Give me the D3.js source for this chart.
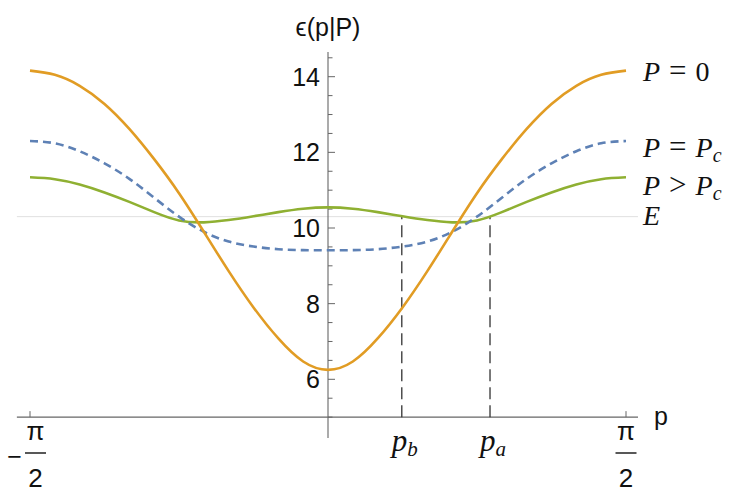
<!DOCTYPE html>
<html>
<head>
<meta charset="utf-8">
<script src="https://cdn.jsdelivr.net/npm/d3@7"></script>
<style>
  html, body { margin: 0; padding: 0; background: #fff; }
  svg { display: block; }
</style>
</head>
<body>
<svg id="chart" width="747" height="492"></svg>
<script>
// ---- data ----
const pGrid = [-1.5708, -1.4399, -1.3090, -1.1781, -1.0472, -0.9163, -0.7854, -0.6545, -0.5236, -0.3927, -0.2618, -0.1309, 0,
               0.1309, 0.2618, 0.3927, 0.5236, 0.6545, 0.7854, 0.9163, 1.0472, 1.1781, 1.3090, 1.4399, 1.5708];
const seriesP0  = [14.16, 14.05, 13.76, 13.28, 12.62, 11.82, 10.92, 9.90, 8.86, 7.90, 7.08, 6.47, 6.25,
                   6.47, 7.08, 7.90, 8.86, 9.90, 10.92, 11.82, 12.62, 13.28, 13.76, 14.05, 14.16];
const seriesPc  = [12.30, 12.24, 12.03, 11.71, 11.30, 10.80, 10.30, 9.90, 9.64, 9.51, 9.44, 9.415, 9.41,
                   9.415, 9.44, 9.51, 9.64, 9.90, 10.30, 10.80, 11.30, 11.71, 12.03, 12.24, 12.30];
const seriesGt  = [11.34, 11.29, 11.15, 10.94, 10.69, 10.42, 10.20, 10.15, 10.21, 10.31, 10.42, 10.51, 10.545,
                   10.51, 10.42, 10.31, 10.21, 10.15, 10.20, 10.42, 10.69, 10.94, 11.15, 11.29, 11.34];
const energyE = 10.3;
const markerP = [0.389, 0.854];
const markerSub = ["b", "a"];
const yMajorTicks = [6, 8, 10, 12, 14];
const yMinorTicks = [5, 5.5, 6.5, 7, 7.5, 8.5, 9, 9.5, 10.5, 11, 11.5, 12.5, 13, 13.5, 14.5];
const xTicks = [-Math.PI / 2, Math.PI / 2];
const xTickSign = ["\u2212", ""];
const legendNames = [["P", "=", "0", ""], ["P", "=", "P", "c"], ["P", ">", "P", "c"], ["E"]];

// ---- layout ----
const svg = d3.select("#chart");
const x = d3.scaleLinear().domain([-Math.PI / 2, Math.PI / 2]).range([30, 626]);
const y = d3.scaleLinear().domain([6, 14]).range([379.3, 76.7]);
const xMin = -1.64, xMax = 1.634, yAxisMin = 4.45, yAxisMax = 14.65, xAxisAt = 5;
const axisColor = "#666";
const sans = "'Liberation Sans', Arial, 'DejaVu Sans', sans-serif";
const serif = "'Liberation Serif', 'DejaVu Serif', serif";

// E line
svg.append("line")
  .attr("x1", x(xMin)).attr("x2", x(xMax))
  .attr("y1", y(energyE)).attr("y2", y(energyE))
  .attr("stroke", "#e0e0e0").attr("stroke-width", 1);

// axes
svg.append("line")
  .attr("x1", x(xMin)).attr("x2", x(xMax))
  .attr("y1", y(xAxisAt)).attr("y2", y(xAxisAt))
  .attr("stroke", axisColor).attr("stroke-width", 1.1);
svg.append("line")
  .attr("x1", x(0)).attr("x2", x(0))
  .attr("y1", y(yAxisMin)).attr("y2", y(yAxisMax))
  .attr("stroke", axisColor).attr("stroke-width", 1.1);

// y ticks
svg.selectAll(".ymaj").data(yMajorTicks).enter().append("line")
  .attr("x1", x(0)).attr("x2", x(0) + 7)
  .attr("y1", d => y(d)).attr("y2", d => y(d))
  .attr("stroke", axisColor).attr("stroke-width", 1);
svg.selectAll(".ymin").data(yMinorTicks).enter().append("line")
  .attr("x1", x(0)).attr("x2", x(0) + 4.5)
  .attr("y1", d => y(d)).attr("y2", d => y(d))
  .attr("stroke", axisColor).attr("stroke-width", 1);
svg.selectAll(".ylab").data(yMajorTicks).enter().append("text")
  .attr("x", x(0) - 8).attr("y", d => y(d) + 9)
  .attr("text-anchor", "end")
  .attr("font-family", sans).attr("font-size", 25).attr("fill", "#111")
  .text(d => d);

// x ticks
svg.selectAll(".xt").data(xTicks).enter().append("line")
  .attr("x1", d => x(d)).attr("x2", d => x(d))
  .attr("y1", y(xAxisAt)).attr("y2", y(xAxisAt) - 6)
  .attr("stroke", axisColor).attr("stroke-width", 1);
xTicks.forEach((t, i) => {
  const neg = xTickSign[i] !== "";
  const cx = x(t) + (neg ? 5.5 : 0);
  const g = svg.append("g");
  g.append("text").attr("x", cx).attr("y", 440).attr("text-anchor", "middle")
    .attr("font-family", sans).attr("font-size", 26).attr("fill", "#111").text("\u03C0");
  g.append("line").attr("x1", cx - 10.5).attr("x2", cx + 10.5).attr("y1", 453).attr("y2", 453)
    .attr("stroke", "#111").attr("stroke-width", 1.4);
  g.append("text").attr("x", cx).attr("y", 487).attr("text-anchor", "middle")
    .attr("font-family", sans).attr("font-size", 26).attr("fill", "#111").text("2");
  if (neg) {
    g.append("text").attr("x", cx - 21).attr("y", 465).attr("text-anchor", "middle")
      .attr("font-family", sans).attr("font-size", 25).attr("fill", "#111").text(xTickSign[i]);
  }
});

// axis labels
svg.append("text").attr("x", x(0)).attr("y", 36).attr("text-anchor", "middle")
  .attr("font-family", sans).attr("font-size", 25).attr("fill", "#111").text("\u03F5(p|P)");
svg.append("text").attr("x", 654).attr("y", 425)
  .attr("font-family", sans).attr("font-size", 25).attr("fill", "#111").text("p");

// dashed markers
svg.selectAll(".mk").data(markerP).enter().append("line")
  .attr("x1", d => x(d)).attr("x2", d => x(d))
  .attr("y1", y(xAxisAt)).attr("y2", y(energyE))
  .attr("stroke", "#333").attr("stroke-width", 1.3).attr("stroke-dasharray", "12,6");
markerP.forEach((m, i) => {
  const t = svg.append("text").attr("x", x(m) - 10).attr("y", 451)
    .attr("font-family", serif).attr("font-size", 31).attr("fill", "#111");
  t.append("tspan").attr("font-style", "italic").text("p");
  t.append("tspan").attr("font-style", "italic").attr("font-size", 21).attr("dy", 5).text(markerSub[i]);
});

// curves
const line = d3.line().x((d, i) => x(pGrid[i])).y(d => y(d)).curve(d3.curveNatural);
svg.append("path").datum(seriesGt).attr("d", line)
  .attr("fill", "none").attr("stroke", "#8FB032").attr("stroke-width", 2.6);
svg.append("path").datum(seriesPc).attr("d", line)
  .attr("fill", "none").attr("stroke", "#5E81B5").attr("stroke-width", 2.6).attr("stroke-dasharray", "8,5");
svg.append("path").datum(seriesP0).attr("d", line)
  .attr("fill", "none").attr("stroke", "#E19C24").attr("stroke-width", 2.6);

// legend labels
const legendY = [81, 157, 195, 225];
legendNames.forEach((parts, i) => {
  const t = svg.append("text").attr("x", 643).attr("y", legendY[i])
    .attr("font-family", serif).attr("font-size", 28).attr("fill", "#111");
  t.append("tspan").attr("font-style", "italic").text(parts[0]);
  if (parts.length > 1) {
    t.append("tspan").attr("dx", 9).attr("font-size", 31).text(parts[1]);
    if (parts[3]) {
      t.append("tspan").attr("dx", 9).attr("font-style", "italic").text(parts[2]);
      t.append("tspan").attr("font-style", "italic").attr("font-size", 20).attr("dy", 5).text(parts[3]);
    } else {
      t.append("tspan").attr("dx", 9).text(parts[2]);
    }
  }
});
</script>
</body>
</html>
